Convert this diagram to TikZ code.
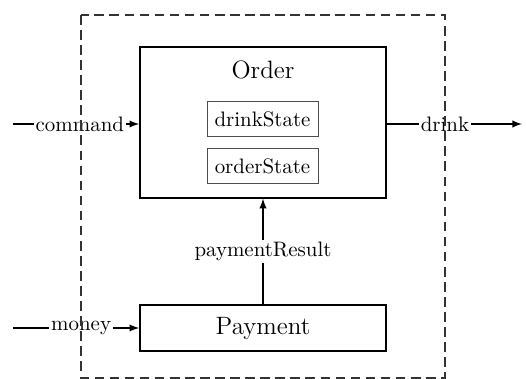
\documentclass[tikz,border=0pt]{standalone}
\usepackage{amsmath}
\usepackage{tikz}
\usetikzlibrary{arrows,calc,positioning}

\tikzset{
  comp/.style={draw, thick, minimum width=117.6pt, inner sep=0pt},
  field/.style={draw=black!70, thin, minimum width=53pt, minimum height=17pt, inner sep=0pt},
  flow/.style={->, semithick},
  flowlabel/.style={fill=white, inner sep=1pt},
  boundary/.style={draw=black!80, semithick, dash pattern=on 4.6pt off 2.6pt}
}

\begin{document}
\begin{tikzpicture}[>=latex, x=0.478pt, y=-0.478pt]
	\useasboundingbox (0,0) rectangle (526,379);

	% components
	\node[comp, minimum height=72pt] (order) at (263,122.5) {};
	\node[font=\large] (ordername) at (263,70) {Order};
	\node[field] (drinkstate) at (262.5,119) {drinkState};
	\node[field] (orderstate) at (262.5,166) {orderState};
	\node[comp, minimum height=22pt, font=\large] (payment) at (263,328) {Payment};

	% free ends
	\coordinate (cmdin) at (13,124);
	\coordinate (moneyin) at (13,328);
	\coordinate (drinkout) at (522,124);

	% flows
	\draw[flow] (cmdin) -- node[flowlabel, pos=0.53] {command} (cmdin -| order.west);
	\draw[flow] (moneyin) -- node[flowlabel, pos=0.54] {money} (payment.west);
	\draw[flow] (drinkout -| order.east) -- node[flowlabel, pos=0.43] {drink} (drinkout);
	\draw[flow] (payment) -- node[flowlabel] {paymentResult} (order);

	% system boundary
	\draw[boundary] (81,15) rectangle (445,378);
\end{tikzpicture}
\end{document}
